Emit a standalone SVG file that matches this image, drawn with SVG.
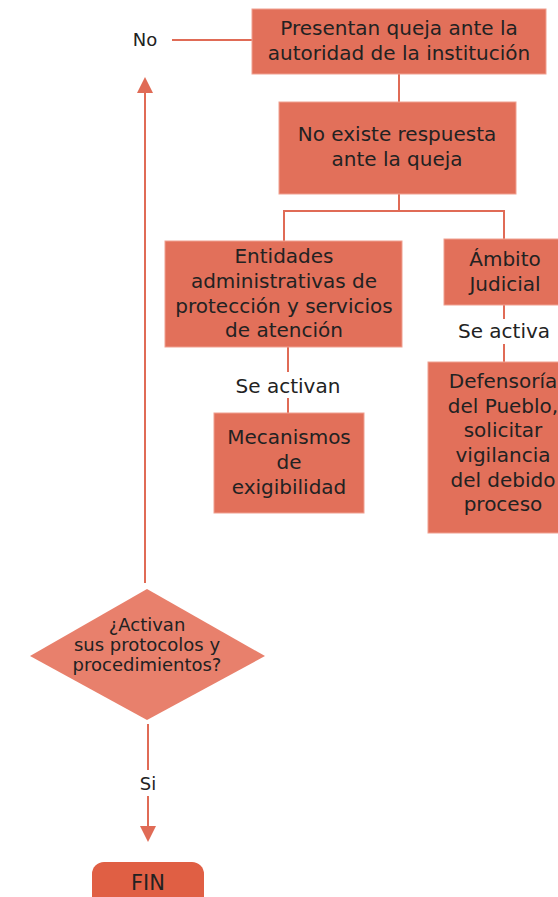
<svg xmlns="http://www.w3.org/2000/svg" width="558" height="897" viewBox="0 0 558 897">
<defs>
<style>
.box{fill:#E2705A;stroke:#F0A090;stroke-width:1}
.dia{fill:#E8806C}
.fin{fill:#E05F44}
.t{font-family:"DejaVu Sans",sans-serif;font-size:20px;fill:#222222;text-anchor:middle}
.lbl{font-family:"DejaVu Sans",sans-serif;font-size:20px;fill:#222222;text-anchor:middle}
.dt{font-family:"DejaVu Sans",sans-serif;font-size:18px;fill:#222222;text-anchor:middle}
.ln{stroke:#E06B56;stroke-width:2;fill:none}
</style>
<marker id="ah" markerWidth="16" markerHeight="16" refX="8" refY="8" orient="auto" markerUnits="userSpaceOnUse" viewBox="0 0 16 16">
<path d="M0,0 L16,8 L0,16 Z" fill="#E06B56"/>
</marker>
</defs>
<rect width="558" height="897" fill="#FFFFFF"/>
<g id="connectors">
<line class="ln" x1="399" y1="74" x2="399" y2="102"/>
<polyline class="ln" points="399,194 399,211 284,211 284,241"/>
<polyline class="ln" points="399,211 504,211 504,239"/>
<line class="ln" x1="504" y1="305" x2="504" y2="319"/>
<line class="ln" x1="504" y1="344" x2="504" y2="362"/>
<line class="ln" x1="288" y1="347" x2="288" y2="372"/>
<line class="ln" x1="288" y1="398" x2="288" y2="413"/>
<line class="ln" x1="252" y1="40" x2="172" y2="40"/>
<line class="ln" x1="145" y1="583" x2="145" y2="85" marker-end="url(#ah)"/>
<line class="ln" x1="148" y1="724" x2="148" y2="770"/>
<line class="ln" x1="148" y1="796" x2="148" y2="834" marker-end="url(#ah)"/>
<text class="lbl" x="145" y="46" style="font-size:18px">No</text>
<text class="lbl" x="288" y="393">Se activan</text>
<text class="lbl" x="504" y="338">Se activa</text>
<text class="lbl" x="148" y="790" style="font-size:18px">Si</text>
</g>
<g id="n1">
<rect class="box" x="252" y="9" width="294" height="65"/>
<text class="t" x="399" y="35">Presentan queja ante la</text>
<text class="t" x="399" y="60">autoridad de la institución</text>
</g>
<g id="n2">
<rect class="box" x="279" y="102" width="237" height="92"/>
<text class="t" x="397" y="141">No existe respuesta</text>
<text class="t" x="397" y="166">ante la queja</text>
</g>
<g id="n3">
<rect class="box" x="165" y="241" width="237" height="106"/>
<text class="t" x="284" y="263">Entidades</text>
<text class="t" x="284" y="288">administrativas de</text>
<text class="t" x="284" y="313">protección y servicios</text>
<text class="t" x="284" y="337">de atención</text>
</g>
<g id="n4">
<rect class="box" x="444" y="239" width="122" height="66"/>
<text class="t" x="505" y="266">Ámbito</text>
<text class="t" x="505" y="291">Judicial</text>
</g>
<g id="n5">
<rect class="box" x="214" y="413" width="150" height="100"/>
<text class="t" x="289" y="444">Mecanismos</text>
<text class="t" x="289" y="469">de</text>
<text class="t" x="289" y="494">exigibilidad</text>
</g>
<g id="n6">
<rect class="box" x="428" y="362" width="152" height="171"/>
<text class="t" x="503" y="388">Defensoría</text>
<text class="t" x="503" y="413">del Pueblo,</text>
<text class="t" x="503" y="437">solicitar</text>
<text class="t" x="503" y="462">vigilancia</text>
<text class="t" x="503" y="487">del debido</text>
<text class="t" x="503" y="511">proceso</text>
</g>
<g id="n7">
<polygon class="dia" points="147,589 265,656 147,720 30,656"/>
<text class="dt" x="147" y="631">¿Activan</text>
<text class="dt" x="147" y="651">sus protocolos y</text>
<text class="dt" x="147" y="671">procedimientos?</text>
</g>
<g id="n8">
<rect class="fin" x="92" y="862" width="112" height="50" rx="12"/>
<text class="t" x="148" y="890" style="font-size:21px">FIN</text>
</g>
</svg>
